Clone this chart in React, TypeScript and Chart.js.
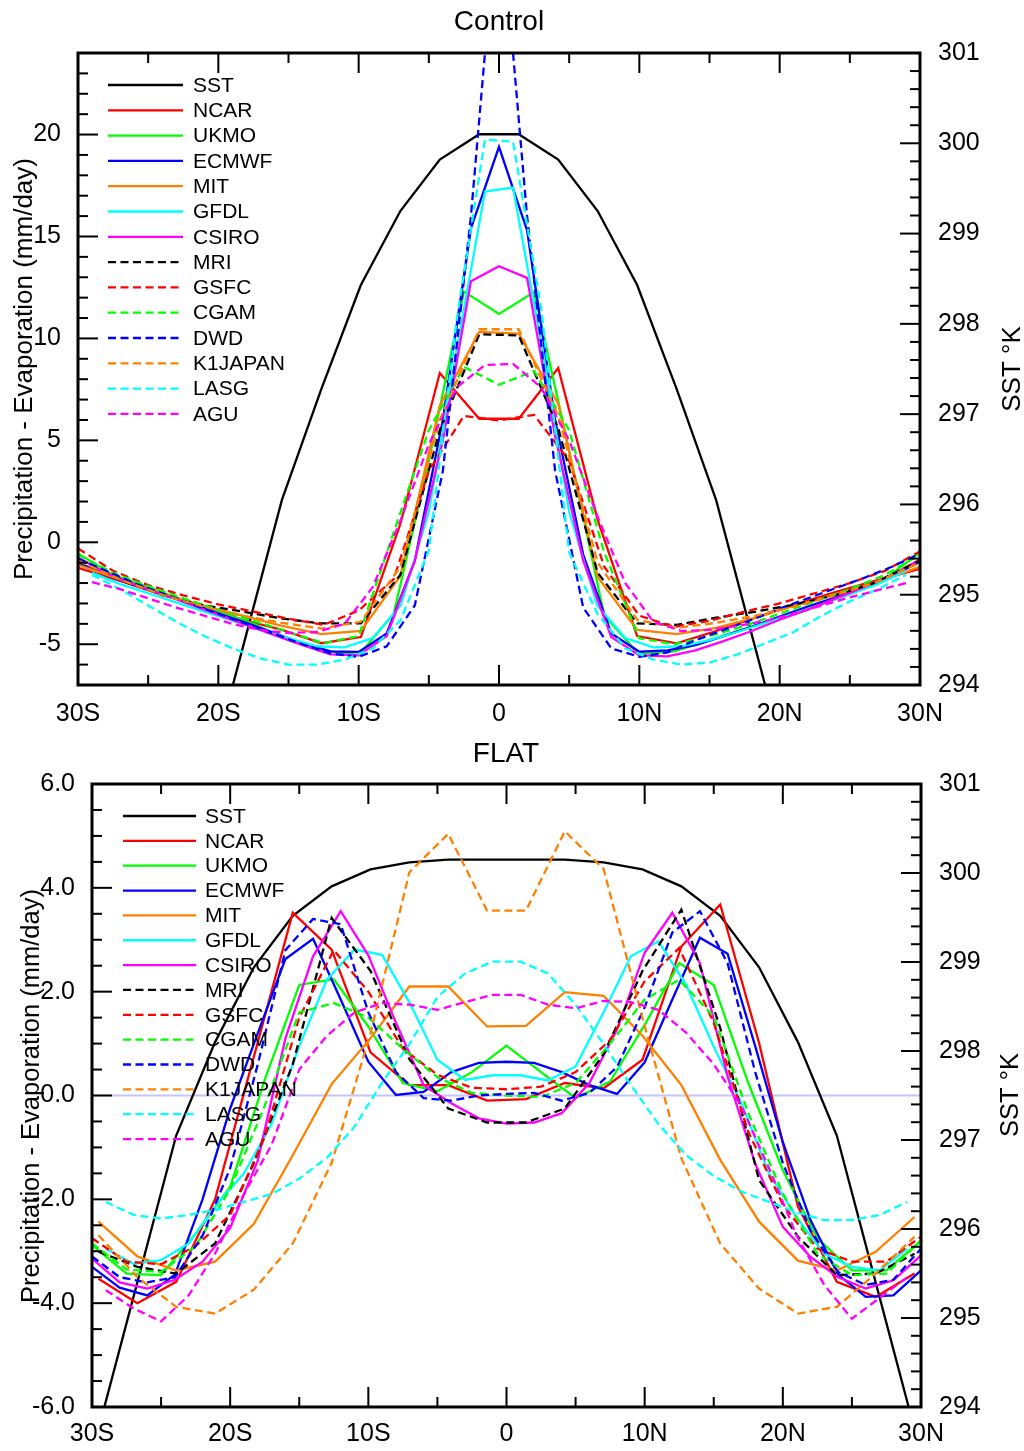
import React, { useEffect, useRef } from 'react';
import { Chart, registerables } from 'chart.js';

Chart.register(...registerables);

// ---------- latitude grids (degrees, south negative) ----------
const LAT_GAUSS = [-29.53125, -26.71875, -23.90625, -21.09375, -18.28125, -15.46875, -12.65625, -9.84375, -7.03125, -4.21875, -1.40625, 1.40625, 4.21875, 7.03125, 9.84375, 12.65625, 15.46875, 18.28125, 21.09375, 23.90625, 26.71875, 29.53125];
const LAT_GAUSS_EDGE = [-30, -26.71875, -23.90625, -21.09375, -18.28125, -15.46875, -12.65625, -9.84375, -7.03125, -4.21875, -1.40625, 1.40625, 4.21875, 7.03125, 9.84375, 12.65625, 15.46875, 18.28125, 21.09375, 23.90625, 26.71875, 30];
const LAT_EVEN = [-30, -28, -26, -24, -22, -20, -18, -16, -14, -12, -10, -8, -6, -4, -2, 0, 2, 4, 6, 8, 10, 12, 14, 16, 18, 20, 22, 24, 26, 28, 30];
const LAT_ODD = [-29, -27, -25, -23, -21, -19, -17, -15, -13, -11, -9, -7, -5, -3, -1, 1, 3, 5, 7, 9, 11, 13, 15, 17, 19, 21, 23, 25, 27, 29];
const LAT_QUARTER = [-30, -27.5, -25, -22.5, -20, -17.5, -15, -12.5, -10, -7.5, -5, -2.5, 0, 2.5, 5, 7.5, 10, 12.5, 15, 17.5, 20, 22.5, 25, 27.5, 30];

// ---------- series appearance ----------
const SERIES_NAMES = ['SST', 'NCAR', 'UKMO', 'ECMWF', 'MIT', 'GFDL', 'CSIRO', 'MRI', 'GSFC', 'CGAM', 'DWD', 'K1JAPAN', 'LASG', 'AGU'];
const SERIES_COLORS = ['#000000', '#ff0000', '#00ff00', '#0000ff', '#ff8000', '#00ffff', '#ff00ff', '#000000', '#ff0000', '#00ff00', '#0000ff', '#ff8000', '#00ffff', '#ff00ff'];
const SERIES_DASHED = [false, false, false, false, false, false, false, true, true, true, true, true, true, true];

// ---------- axis ticks ----------
const X_TICKS = [-30, -20, -10, 0, 10, 20, 30];
const X_TICK_LABELS = ['30S', '20S', '10S', '0', '10N', '20N', '30N'];
const CTRL_Y_TICKS = [-5, 0, 5, 10, 15, 20];
const FLAT_Y_TICKS = [-6, -4, -2, 0, 2, 4, 6];
const SST_TICKS = [294, 295, 296, 297, 298, 299, 300, 301];

// ---------- Control: P - E (mm/day) and SST (K) ----------
const CTRL_SST = [null, null, null, 292.75, 294.4, 296.05, 297.28, 298.43, 299.25, 299.82, 300.1, 300.1, 299.82, 299.25, 298.43, 297.28, 296.05, 294.4, 292.75, null, null, null];
const CTRL_NCAR = [-1.25, -1.95, -2.6, -3.1, -3.8, -4.3, -4.95, -4.65, 0.9, 8.3, 6.06, 6.06, 8.55, 1.1, -4.6, -4.96, -4.35, -3.7, -3.05, -2.45, -1.9, -1.3];
const CTRL_UKMO = [-0.55, -1.6, -2.2, -2.85, -3.4, -4.0, -4.8, -5.3, -5.54, -3.5, 4.0, 12.3, 11.2, 12.27, 4.5, -3.6, -5.5, -5.35, -4.8, -4.25, -3.7, -3.15, -2.55, -1.8, -0.5];
const CTRL_ECMWF = [-1.0, -1.6, -2.1, -2.55, -3.0, -3.5, -3.95, -4.45, -4.95, -5.35, -5.38, -4.47, -0.9, 6.0, 15.4, 19.4, 15.3, 6.0, -0.6, -4.47, -5.37, -5.3, -5.05, -4.6, -4.15, -3.65, -3.15, -2.7, -2.2, -1.65, -0.95];
const CTRL_MIT = [-1.1, -1.9, -2.55, -3.1, -3.6, -4.1, -4.5, -4.35, -1.65, 6.7, 10.32, 10.24, 6.8, -1.7, -4.3, -4.5, -4.2, -3.7, -3.1, -2.55, -2.0, -1.2];
const CTRL_GFDL = [-1.5, -2.05, -2.5, -2.95, -3.4, -3.85, -4.3, -4.7, -5.1, -5.15, -4.7, -3.1, 1.5, 9.5, 17.2, 17.4, 9.8, 1.5, -3.1, -4.7, -5.15, -5.1, -4.8, -4.4, -3.95, -3.5, -3.05, -2.55, -2.05, -1.4];
const CTRL_CSIRO = [-0.75, -1.5, -2.05, -2.55, -3.05, -3.55, -4.05, -4.55, -5.05, -5.5, -5.55, -4.6, -0.9, 5.0, 12.8, 13.54, 12.97, 5.2, -0.9, -4.64, -5.55, -5.6, -5.3, -4.85, -4.35, -3.8, -3.3, -2.75, -2.2, -1.6, -0.85];
const CTRL_MRI = [-0.9, -1.85, -2.6, -3.08, -3.4, -3.74, -3.98, -3.98, -1.6, 5.5, 10.2, 10.15, 5.6, -1.5, -3.98, -4.05, -3.7, -3.4, -3.05, -2.6, -2.0, -0.9];
const CTRL_GSFC = [-0.3, -1.4, -2.1, -2.6, -3.05, -3.4, -3.75, -4.05, -3.35, -1.8, 3.5, 6.2, 5.98, 6.25, 4.0, -1.2, -3.6, -4.15, -3.85, -3.4, -3.0, -2.5, -2.0, -1.4, -0.45];
const CTRL_CGAM = [-0.6, -1.5, -2.15, -2.75, -3.3, -3.85, -4.4, -4.95, -4.6, 0.5, 5.5, 8.6, 7.73, 8.4, 5.5, -0.5, -4.7, -5.0, -4.6, -4.1, -3.5, -2.9, -2.3, -1.6, -0.6];
const CTRL_DWD = [-0.8, -1.4, -2.0, -2.5, -3.0, -3.5, -4.0, -4.5, -5.0, -5.45, -5.62, -5.1, -3.1, 3.5, 16.0, 32.0, 16.0, 3.5, -3.2, -5.2, -5.62, -5.4, -4.8, -4.3, -3.8, -3.25, -2.75, -2.25, -1.75, -1.2, -0.55];
const CTRL_K1JAPAN = [-0.9, -1.9, -2.6, -3.15, -3.6, -3.95, -4.23, -3.9, -1.2, 6.0, 10.45, 10.45, 6.2, -1.0, -3.8, -4.2, -3.95, -3.6, -3.15, -2.6, -2.0, -1.0];
const CTRL_LASG = [-1.6, -2.3, -3.1, -3.9, -4.6, -5.2, -5.7, -6.0, -6.0, -5.75, -5.2, -3.8, -0.4, 11.0, 19.75, 19.65, 11.5, -0.5, -3.5, -5.2, -5.75, -6.0, -5.9, -5.5, -4.95, -4.4, -3.6, -2.9, -2.3, -1.6];
const CTRL_AGU = [-1.95, -2.3, -2.75, -3.2, -3.6, -4.0, -4.3, -4.45, -4.4, -4.0, -2.2, 1.1, 4.8, 7.6, 8.7, 8.75, 7.6, 5.0, 1.3, -2.0, -3.9, -4.35, -4.3, -4.1, -3.85, -3.5, -3.1, -2.7, -2.35, -2.0];

// ---------- FLAT: P - E (mm/day) and SST (K) ----------
const FLAT_SST = [293.75, 295.4, 297.05, 298.1, 298.94, 299.52, 299.85, 300.04, 300.12, 300.15, 300.15, 300.15, 300.15, 300.12, 300.04, 299.85, 299.52, 298.94, 298.1, 297.05, 295.4, 293.75];
const FLAT_NCAR = [-3.53, -4.0, -3.59, -2.0, 0.75, 3.52, 2.81, 0.83, 0.2, 0.2, -0.1, -0.07, 0.24, 0.14, 0.69, 2.87, 3.68, 1.01, -2.14, -3.59, -3.88, -3.43];
const FLAT_UKMO = [-2.88, -3.43, -3.46, -2.66, -1.76, 0.3, 2.13, 2.24, 1.33, 0.24, 0.08, 0.45, 0.96, 0.45, -0.05, 0.27, 1.36, 2.55, 2.13, 0.24, -1.44, -2.75, -3.37, -3.37, -2.8];
const FLAT_ECMWF = [-3.3, -3.7, -3.85, -3.45, -2.0, -0.25, 1.2, 2.63, 3.02, 1.85, 0.65, 0.01, 0.07, 0.45, 0.63, 0.65, 0.63, 0.45, 0.2, 0.03, 0.64, 1.85, 3.04, 2.73, 0.95, -0.9, -2.4, -3.45, -3.88, -3.85, -3.37];
const FLAT_MIT = [-2.43, -3.1, -3.37, -3.2, -2.47, -1.15, 0.22, 1.1, 2.1, 2.1, 1.33, 1.34, 1.99, 1.92, 1.15, 0.2, -1.24, -2.43, -3.18, -3.37, -3.01, -2.34];
const FLAT_GFDL = [-2.95, -3.24, -3.17, -2.85, -2.1, -1.5, -0.55, 0.95, 2.23, 2.81, 2.71, 1.78, 0.69, 0.3, 0.39, 0.39, 0.29, 0.56, 1.59, 2.68, 2.97, 2.13, 0.94, -0.15, -1.5, -2.35, -3.05, -3.3, -3.37, -2.95];
const FLAT_CSIRO = [-3.14, -3.6, -3.72, -3.55, -3.2, -2.55, -1.25, 1.1, 2.68, 3.55, 2.7, 1.4, 0.2, -0.15, -0.44, -0.54, -0.52, -0.34, 0.24, 1.27, 2.75, 3.52, 2.55, 0.37, -1.31, -2.53, -3.11, -3.5, -3.72, -3.56, -3.08];
const FLAT_MRI = [-3.01, -3.3, -3.43, -2.85, -1.3, 0.6, 3.42, 2.4, 0.7, -0.25, -0.52, -0.52, -0.25, 0.8, 2.4, 3.58, 1.3, -1.63, -2.72, -3.46, -3.43, -3.05];
const FLAT_GSFC = [-2.75, -3.2, -3.25, -2.9, -2.3, -0.8, 1.5, 2.8, 2.0, 0.9, 0.4, 0.15, 0.12, 0.17, 0.45, 1.07, 2.2, 2.84, 1.4, -0.7, -2.1, -2.95, -3.2, -3.2, -2.72];
const FLAT_CGAM = [-2.85, -3.35, -3.4, -2.9, -1.8, -0.2, 1.6, 1.78, 1.5, 0.9, 0.35, 0.05, 0.0, -0.03, 0.24, 1.0, 1.85, 2.23, 1.52, -0.34, -1.89, -3.05, -3.46, -3.43, -2.79];
const FLAT_DWD = [-3.1, -3.5, -3.6, -3.5, -2.7, -1.4, 0.6, 2.8, 3.4, 3.3, 1.6, 0.45, -0.05, -0.1, 0.0, 0.03, 0.05, -0.1, 0.05, 0.55, 1.7, 3.14, 3.55, 2.55, 0.45, -1.3, -2.6, -3.4, -3.65, -3.55, -2.95];
const FLAT_K1JAPAN = [-2.69, -3.5, -4.07, -4.2, -3.74, -2.85, -1.3, 1.2, 4.3, 5.04, 3.56, 3.56, 5.09, 4.36, 1.49, -1.21, -2.85, -3.72, -4.2, -4.07, -3.43, -2.72];
const FLAT_LASG = [-2.05, -2.3, -2.37, -2.3, -2.2, -2.05, -1.9, -1.6, -1.2, -0.6, 0.25, 1.0, 1.9, 2.35, 2.58, 2.58, 2.35, 1.75, 1.0, 0.2, -0.55, -1.15, -1.55, -1.85, -2.05, -2.25, -2.4, -2.4, -2.3, -2.05];
const FLAT_AGU = [-3.75, -4.1, -4.35, -3.85, -3.0, -1.9, -0.95, 0.5, 1.15, 1.6, 1.78, 1.75, 1.65, 1.8, 1.94, 1.94, 1.75, 1.68, 1.82, 1.8, 1.65, 1.21, 0.6, -0.2, -1.4, -2.7, -3.65, -4.3, -3.9, -3.5];

const FONT = "'Liberation Sans', Arial, Helvetica, sans-serif";
const LINE_WIDTH = 2.3;
const DASH = [8, 4.5];

type Panel = {
  title: string;
  top: number;
  height: number;
  padTop: number;
  leftW: number;
  rightW: number;
  bottomH: number;
  yMin: number;
  yMax: number;
  yTicks: number[];
  yMinorStep: number;
  yLabel: (v: number) => string;
  zeroLine: boolean;
  xLabelPad: number;
  titlePos: [number, number];
  yTitlePos: [number, number];
  sstTitlePos: [number, number];
  yTitleSize: number;
  legend: { x1: number; x2: number; tx: number; y0: number; step: number };
  lats: number[][];
  values: (number | null)[][];
};

const PANELS: Panel[] = [
  {
    title: 'Control',
    top: 0,
    height: 740,
    padTop: 53,
    leftW: 78,
    rightW: 104,
    bottomH: 55,
    yMin: -7,
    yMax: 24,
    yTicks: CTRL_Y_TICKS,
    yMinorStep: 1,
    yLabel: (v) => String(v),
    zeroLine: false,
    xLabelPad: 14,
    titlePos: [499, 22],
    yTitlePos: [32, 369],
    sstTitlePos: [1020, 369],
    yTitleSize: 26,
    legend: { x1: 108, x2: 183, tx: 193, y0: 85, step: 25.3 },
    lats: [LAT_GAUSS, LAT_GAUSS_EDGE, LAT_QUARTER, LAT_EVEN, LAT_GAUSS_EDGE, LAT_ODD, LAT_EVEN, LAT_GAUSS_EDGE, LAT_QUARTER, LAT_QUARTER, LAT_EVEN, LAT_GAUSS_EDGE, LAT_ODD, LAT_ODD],
    values: [CTRL_SST, CTRL_NCAR, CTRL_UKMO, CTRL_ECMWF, CTRL_MIT, CTRL_GFDL, CTRL_CSIRO, CTRL_MRI, CTRL_GSFC, CTRL_CGAM, CTRL_DWD, CTRL_K1JAPAN, CTRL_LASG, CTRL_AGU],
  },
  {
    title: 'FLAT',
    top: 740,
    height: 711,
    padTop: 44,
    leftW: 92,
    rightW: 103,
    bottomH: 44,
    yMin: -6,
    yMax: 6,
    yTicks: FLAT_Y_TICKS,
    yMinorStep: 0.5,
    yLabel: (v) => v.toFixed(1),
    zeroLine: true,
    xLabelPad: 12,
    titlePos: [506, 14],
    yTitlePos: [39, 356],
    sstTitlePos: [1018, 355],
    yTitleSize: 25.5,
    legend: { x1: 123, x2: 196, tx: 205, y0: 76, step: 24.85 },
    lats: [LAT_GAUSS, LAT_GAUSS, LAT_QUARTER, LAT_EVEN, LAT_GAUSS, LAT_ODD, LAT_EVEN, LAT_GAUSS, LAT_QUARTER, LAT_QUARTER, LAT_EVEN, LAT_GAUSS, LAT_ODD, LAT_ODD],
    values: [FLAT_SST, FLAT_NCAR, FLAT_UKMO, FLAT_ECMWF, FLAT_MIT, FLAT_GFDL, FLAT_CSIRO, FLAT_MRI, FLAT_GSFC, FLAT_CGAM, FLAT_DWD, FLAT_K1JAPAN, FLAT_LASG, FLAT_AGU],
  },
];

function steps(min: number, max: number, step: number): number[] {
  const out: number[] = [];
  const n = Math.round((max - min) / step);
  for (let i = 0; i <= n; i++) out.push(+(min + i * step).toFixed(4));
  return out;
}

function buildConfig(p: Panel): any {
  const datasets = SERIES_NAMES.map((name, i) => ({
    label: name,
    data: p.lats[i].map((lat, k) => ({ x: lat, y: p.values[i][k] })),
    borderColor: SERIES_COLORS[i],
    backgroundColor: SERIES_COLORS[i],
    borderWidth: LINE_WIDTH,
    borderDash: SERIES_DASHED[i] ? DASH : [],
    pointRadius: 0,
    tension: 0,
    fill: false,
    spanGaps: false,
    yAxisID: name === 'SST' ? 'y2' : 'y',
    order: -i,
  }));

  const zeroLinePlugin = {
    id: 'zeroLine',
    beforeDatasetsDraw(chart: any) {
      if (!p.zeroLine) return;
      const { ctx, chartArea: a, scales } = chart;
      const y = scales.y.getPixelForValue(0);
      ctx.save();
      ctx.strokeStyle = '#c4c4ff';
      ctx.lineWidth = 2;
      ctx.beginPath();
      ctx.moveTo(a.left, y);
      ctx.lineTo(a.right, y);
      ctx.stroke();
      ctx.restore();
    },
  };

  const decorPlugin = {
    id: 'decor',
    afterDatasetsDraw(chart: any) {
      const { ctx, chartArea: a, scales } = chart;
      ctx.save();
      ctx.setLineDash([]);

      // legend inside the plot
      const lg = p.legend;
      chart.data.datasets.forEach((ds: any, i: number) => {
        const y = lg.y0 + i * lg.step;
        ctx.strokeStyle = ds.borderColor;
        ctx.lineWidth = LINE_WIDTH;
        ctx.setLineDash(ds.borderDash || []);
        ctx.beginPath();
        ctx.moveTo(lg.x1, y);
        ctx.lineTo(lg.x2, y);
        ctx.stroke();
        ctx.setLineDash([]);
        ctx.fillStyle = '#000';
        ctx.font = `21px ${FONT}`;
        ctx.textAlign = 'left';
        ctx.textBaseline = 'middle';
        ctx.fillText(ds.label, lg.tx, y + 1);
      });

      // inward tick marks on all four sides
      ctx.strokeStyle = '#000';
      ctx.lineWidth = 2;
      const major = 20;
      const minor = 10;
      steps(-30, 30, 5).forEach((v) => {
        const len = v % 10 === 0 ? major : minor;
        const x = scales.x.getPixelForValue(v);
        ctx.beginPath();
        ctx.moveTo(x, a.bottom);
        ctx.lineTo(x, a.bottom - len);
        ctx.moveTo(x, a.top);
        ctx.lineTo(x, a.top + len);
        ctx.stroke();
      });
      steps(p.yMin, p.yMax, p.yMinorStep).forEach((v) => {
        const isMajor = p.yTicks.some((t) => Math.abs(t - v) < 1e-6);
        const y = scales.y.getPixelForValue(v);
        ctx.beginPath();
        ctx.moveTo(a.left, y);
        ctx.lineTo(a.left + (isMajor ? major : minor), y);
        ctx.stroke();
      });
      steps(294, 301, 0.2).forEach((v) => {
        const isMajor = Math.abs(v - Math.round(v)) < 1e-6;
        const y = scales.y2.getPixelForValue(v);
        ctx.beginPath();
        ctx.moveTo(a.right, y);
        ctx.lineTo(a.right - (isMajor ? major : minor), y);
        ctx.stroke();
      });

      // plot frame
      ctx.lineWidth = 3;
      ctx.strokeRect(a.left, a.top, a.right - a.left, a.bottom - a.top);

      // panel title
      ctx.fillStyle = '#000';
      ctx.font = `28px ${FONT}`;
      ctx.textAlign = 'center';
      ctx.textBaseline = 'middle';
      ctx.fillText(p.title, p.titlePos[0], p.titlePos[1]);

      // axis titles (rotated)
      ctx.font = `${p.yTitleSize}px ${FONT}`;
      ctx.textBaseline = 'alphabetic';
      ctx.save();
      ctx.translate(p.yTitlePos[0], p.yTitlePos[1]);
      ctx.rotate(-Math.PI / 2);
      ctx.fillText('Precipitation - Evaporation (mm/day)', 0, 0);
      ctx.restore();
      ctx.save();
      ctx.translate(p.sstTitlePos[0], p.sstTitlePos[1]);
      ctx.rotate(-Math.PI / 2);
      ctx.fillText('SST \u00B0K', 0, 0);
      ctx.restore();

      ctx.restore();
    },
  };

  const tickFont = { family: FONT, size: 25 };

  return {
    type: 'line',
    data: { datasets },
    options: {
      responsive: false,
      animation: false,
      devicePixelRatio: 1,
      layout: { padding: { top: p.padTop, left: 0, right: 0, bottom: 0 } },
      plugins: {
        legend: { display: false },
        tooltip: { enabled: false },
        title: { display: false },
      },
      scales: {
        x: {
          type: 'linear',
          min: -30,
          max: 30,
          grid: { display: false, drawTicks: false },
          border: { display: false },
          afterBuildTicks: (s: any) => {
            s.ticks = X_TICKS.map((v) => ({ value: v }));
          },
          afterFit: (s: any) => {
            s.height = p.bottomH;
          },
          ticks: {
            autoSkip: false,
            maxRotation: 0,
            padding: p.xLabelPad,
            color: '#000',
            font: tickFont,
            callback: (v: number) => X_TICK_LABELS[X_TICKS.indexOf(v)],
          },
        },
        y: {
          type: 'linear',
          position: 'left',
          min: p.yMin,
          max: p.yMax,
          grid: { display: false, drawTicks: false },
          border: { display: false },
          afterBuildTicks: (s: any) => {
            s.ticks = p.yTicks.map((v) => ({ value: v }));
          },
          afterFit: (s: any) => {
            s.width = p.leftW;
          },
          ticks: {
            autoSkip: false,
            padding: 17,
            color: '#000',
            font: tickFont,
            callback: (v: number) => p.yLabel(v),
          },
        },
        y2: {
          type: 'linear',
          position: 'right',
          min: 294,
          max: 301,
          grid: { display: false, drawTicks: false },
          border: { display: false },
          afterBuildTicks: (s: any) => {
            s.ticks = SST_TICKS.map((v) => ({ value: v }));
          },
          afterFit: (s: any) => {
            s.width = p.rightW;
          },
          ticks: {
            autoSkip: false,
            padding: 18,
            color: '#000',
            font: tickFont,
            callback: (v: number) => String(v),
          },
        },
      },
    },
    plugins: [zeroLinePlugin, decorPlugin],
  };
}

function PanelChart({ panel }: { panel: Panel }) {
  const ref = useRef<HTMLCanvasElement>(null);
  useEffect(() => {
    if (!ref.current) return;
    const chart = new Chart(ref.current, buildConfig(panel));
    return () => chart.destroy();
  }, [panel]);
  return (
    <canvas
      ref={ref}
      width={1024}
      height={panel.height}
      style={{ position: 'absolute', left: 0, top: panel.top, width: 1024, height: panel.height, display: 'block' }}
    />
  );
}

export default function App() {
  return (
    <div style={{ position: 'absolute', left: 0, top: 0, width: 1024, height: 1451, background: '#fff' }}>
      {PANELS.map((p) => (
        <PanelChart key={p.title} panel={p} />
      ))}
    </div>
  );
}
